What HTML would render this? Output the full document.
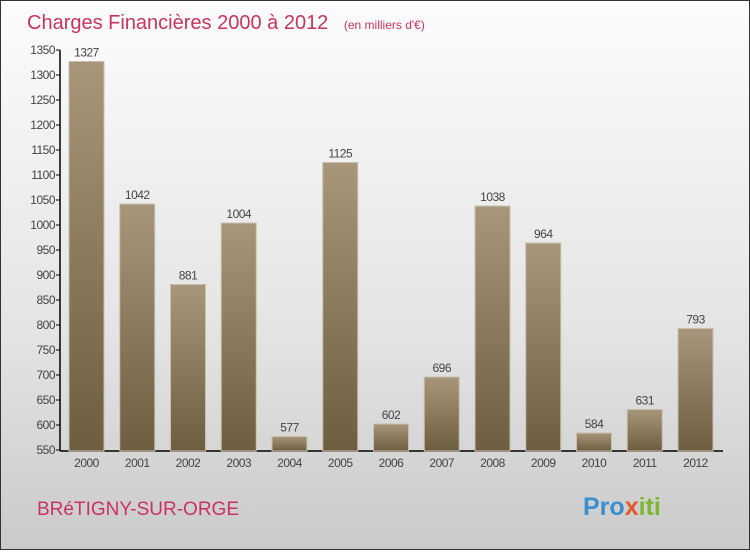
<!DOCTYPE html>
<html><head><meta charset="utf-8"><style>
body{margin:0;width:750px;height:550px;overflow:hidden;font-family:"Liberation Sans",sans-serif}
#wrap{position:absolute;left:0;top:0;width:748px;height:548px;border:1px solid #333;background:linear-gradient(#fcfcfc,#e4e4e4 60%,#cacaca)}
</style></head><body>
<div id="wrap">
<svg width="748" height="548">
<defs><linearGradient id="bg" x1="0" y1="0" x2="0" y2="1"><stop offset="0" stop-color="#a7967a"/><stop offset="1" stop-color="#6e5e40"/></linearGradient></defs>
<text x="26" y="28" font-size="20" fill="#c8335f">Charges Financières 2000 à 2012 <tspan font-size="12" dx="10">(en milliers d'€)</tspan></text>
<g id="grid"></g><g id="bars"></g>
<text x="36" y="514" font-size="19" fill="#c8335f">BRéTIGNY-SUR-ORGE</text>
<text x="582" y="514" font-size="25" font-weight="bold" fill="#3a8fd0">Pro<tspan fill="#e05a2a">x</tspan><tspan fill="#7cb82f">iti</tspan></text>
</svg></div>
<script>
const years=["2000","2001","2002","2003","2004","2005","2006","2007","2008","2009","2010","2011","2012"];
const values=[1327,1042,881,1004,577,1125,602,696,1038,964,584,631,793];
const ticks=[550,600,650,700,750,800,850,900,950,1000,1050,1100,1150,1200,1250,1300,1350];
const NS="http://www.w3.org/2000/svg";
const y=v=>449-(v-550)*0.5;
const x=i=>85.5+i*50.75;
function mk(t,a,p){const e=document.createElementNS(NS,t);for(const k in a)e.setAttribute(k,a[k]);p.appendChild(e);return e;}
const g=document.getElementById('grid'),b=document.getElementById('bars');
const ax=mk('line',{x1:59,y1:49,x2:59,y2:450,stroke:'#000','stroke-width':1.5},g);


const xa=mk('line',{x1:59,y1:450,x2:722,y2:450,stroke:'#000','stroke-width':1.5},g);


ticks.forEach(t=>{mk('line',{x1:55,x2:59,y1:y(t),y2:y(t),stroke:'#000'},g);
const tx=mk('text',{x:54,y:y(t)+4,'font-size':12,'text-anchor':'end',fill:'#444','letter-spacing':'-0.5'},g);tx.textContent=t;

});
years.forEach((yr,i)=>{const v=values[i];
const r=mk('rect',{x:x(i)-17.5,y:y(v),width:35,height:450-y(v),fill:'url(#bg)',stroke:'#c9bfae','stroke-width':1},b);


const l=mk('text',{x:x(i),y:y(v)-5,'font-size':12,'text-anchor':'middle',fill:'#444','letter-spacing':'-0.5'},b);l.textContent=v;


const xl=mk('text',{x:x(i),y:466,'font-size':12,'text-anchor':'middle',fill:'#444','letter-spacing':'-0.5'},b);xl.textContent=yr;

});
</script></body></html>
